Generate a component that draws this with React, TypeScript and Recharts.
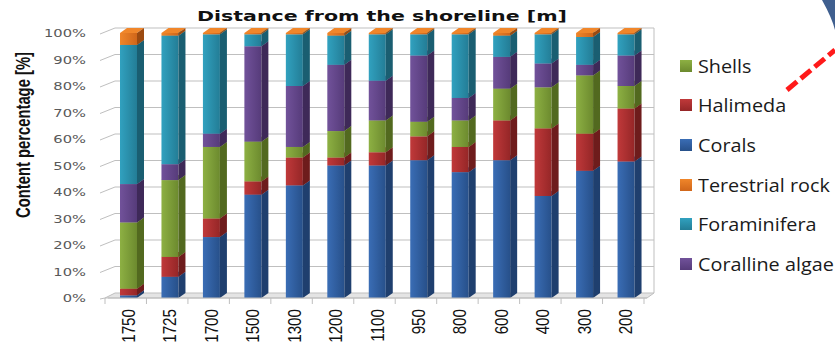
import React from "react";
import { BarChart, Bar, XAxis, YAxis, CartesianGrid } from "recharts";

// distance from the shoreline [m]
const distances = ["1750", "1725", "1700", "1500", "1300", "1200", "1100", "950", "800", "600", "400", "300", "200"];

// content percentage per component, bottom to top of each stack
const corals = [1, 8, 23, 39, 42.5, 50, 50, 52, 47.5, 52, 38.5, 48, 51.5];
const halimeda = [2.5, 7.5, 7, 5, 10.5, 3, 5, 9, 9.5, 15, 25.5, 14, 20];
const shells = [25, 29, 27, 15, 4, 10, 12, 5.5, 10, 12, 15.5, 22, 8.5];
const corallineAlgae = [14.5, 6, 5, 36, 23, 25, 15, 25, 8.5, 12, 9, 4, 11.5];
const foraminifera = [52.5, 48.5, 37.5, 4.5, 19.5, 11, 17.5, 8, 24, 8, 11, 10.5, 8];
const terrestrialRock = [4.5, 1, 0.5, 0.5, 0.5, 1, 0.5, 0.5, 0.5, 1, 0.5, 1.5, 0.5];

const yTicks = [0, 10, 20, 30, 40, 50, 60, 70, 80, 90, 100];

const series = [
  { key: "corals", name: "Corals", values: corals, color: "#3a6db5", dark: "#27508a", side: "#1f3f6e" },
  { key: "halimeda", name: "Halimeda", values: halimeda, color: "#c0393a", dark: "#952627", side: "#6e1c1c" },
  { key: "shells", name: "Shells", values: shells, color: "#8db043", dark: "#6c8a2e", side: "#52691f" },
  { key: "coralline", name: "Coralline algae", values: corallineAlgae, color: "#71529a", dark: "#563b7a", side: "#3e2958" },
  { key: "foraminifera", name: "Foraminifera", values: foraminifera, color: "#31a1bf", dark: "#237d96", side: "#1a5e71" },
  { key: "terrestrial", name: "Terestrial rock", values: terrestrialRock, color: "#f0862a", dark: "#d0661a", side: "#9c4a10" },
];

const legendOrder = ["shells", "halimeda", "corals", "terrestrial", "foraminifera", "coralline"];

const data = distances.map((d, i) => {
  const row: Record<string, string | number> = { distance: d };
  series.forEach((s) => {
    row[s.key] = s.values[i];
  });
  return row;
});

const W = 835;
const H = 346;
const TOP = 33;
const X_AXIS_H = 48;
const Y_AXIS_W = 108;
const RIGHT = 188;
const FLOOR_Y = H - X_AXIS_H;
const BAND = (W - Y_AXIS_W - RIGHT) / distances.length;
const DX = 7;
const DY = 5;

function Bar3D(props: any) {
  const { x, y, width, height, s } = props;
  if (!height || height <= 0) return null;
  const r = x + width;
  return (
    <g>
      <polygon
        points={`${x},${y} ${x + DX},${y - DY} ${r + DX},${y - DY} ${r},${y}`}
        fill={s.color}
      />
      <rect x={x} y={y} width={width} height={height} fill={`url(#g-${s.key})`} />
      <polygon
        points={`${r},${y} ${r + DX},${y - DY} ${r + DX},${y + height - DY} ${r},${y + height}`}
        fill={s.side}
      />
    </g>
  );
}

function GridLine(p: any) {
  const { x1, y1, x2 } = p;
  if (Math.abs(y1 - FLOOR_Y) < 1) {
    return (
      <g>
        <polygon
          points={`${x1 - 3},${y1} ${x1 + DX},${y1 - DY} ${x2 + DX},${y1 - DY} ${x2},${y1}`}
          fill="#e4e4e4"
          stroke="#bfbfbf"
        />
        <line x1={x1 - 8} y1={y1 + 1} x2={x1 - 3} y2={y1} stroke="#bfbfbf" />
        <line x1={x2 + DX} y1={y1 - DY} x2={x2 + DX} y2={TOP - DY} stroke="#bfbfbf" />
      </g>
    );
  }
  return (
    <polyline
      points={`${x1 - 8},${y1 + 1} ${x1 + DX},${y1 - DY} ${x2 + DX},${y1 - DY}`}
      fill="none"
      stroke="#bfbfbf"
    />
  );
}

function YTick(props: any) {
  const { y, payload } = props;
  return (
    <text
      transform={`translate(86, ${y + 4}) scale(1.4, 1)`}
      textAnchor="end"
      fontFamily="DejaVu Sans"
      fontSize={10.5}
      fill="#595959"
    >
      {payload.value}%
    </text>
  );
}

function XTick(props: any) {
  const { x, payload } = props;
  const left = x - BAND / 2;
  return (
    <g>
      <line x1={left - 3} y1={FLOOR_Y} x2={left - 3} y2={FLOOR_Y + 6} stroke="#bfbfbf" />
      {payload.index === distances.length - 1 && (
        <line x1={left + BAND - 3} y1={FLOOR_Y} x2={left + BAND - 3} y2={FLOOR_Y + 6} stroke="#bfbfbf" />
      )}
      <text
        transform={`translate(${x + 6}, ${FLOOR_Y + 11}) rotate(-90) scale(0.95, 1.15)`}
        textAnchor="end"
        fontFamily="Liberation Sans"
        fontSize={16}
        fill="#111"
      >
        {payload.value}
      </text>
    </g>
  );
}

export default function App() {
  const legendItems = legendOrder.map((k) => series.find((s) => s.key === k)!);
  return (
    <div style={{ position: "absolute", left: 0, top: 0, width: W, height: H, background: "#fff", overflow: "hidden" }}>
      <BarChart
        width={W}
        height={H}
        data={data}
        margin={{ top: TOP, right: RIGHT, left: 0, bottom: 0 }}
        barSize={17}
      >
        <defs>
          {series.map((s) => (
            <linearGradient key={s.key} id={`g-${s.key}`} x1="0" y1="0" x2="1" y2="0">
              <stop offset="0%" stopColor={s.color} />
              <stop offset="100%" stopColor={s.dark} />
            </linearGradient>
          ))}
        </defs>
        <CartesianGrid vertical={false} horizontal={(p: any) => <GridLine key={p.key} {...p} />} />
        <XAxis
          dataKey="distance"
          height={X_AXIS_H}
          axisLine={{ stroke: "#bfbfbf" }}
          tickLine={false}
          interval={0}
          tick={<XTick />}
        />
        <YAxis
          width={Y_AXIS_W}
          domain={[0, 100]}
          ticks={yTicks}
          axisLine={false}
          tickLine={false}
          tick={<YTick />}
        />
        {series.map((s) => (
          <Bar
            key={s.key}
            dataKey={s.key}
            name={s.name}
            stackId="a"
            fill={s.color}
            isAnimationActive={false}
            shape={(p: any) => <Bar3D {...p} s={s} />}
          />
        ))}
      </BarChart>

      <svg width={W} height={H} style={{ position: "absolute", left: 0, top: 0, pointerEvents: "none" }}>
        <text
          x={197}
          y={21}
          textLength={370}
          lengthAdjust="spacingAndGlyphs"
          fontFamily="DejaVu Sans"
          fontWeight="bold"
          fontSize={14}
          fill="#111"
        >
          Distance from the shoreline [m]
        </text>
        <text
          transform="translate(30, 135) rotate(-90) scale(0.74, 1)"
          textAnchor="middle"
          fontFamily="Liberation Sans"
          fontWeight="bold"
          fontSize={20}
          fill="#111"
        >
          Content percentage [%]
        </text>
        <path d="M822,0 Q832,18 835,30 L835,0 Z" fill="#3f5f8f" />
        <line x1={787} y1={90} x2={835} y2={50} stroke="#ff1a1a" strokeWidth={5} strokeDasharray="13 5" />
      </svg>

      <div style={{ position: "absolute", left: 680, top: 46 }}>
        {legendItems.map((s) => (
          <div key={s.key} style={{ display: "flex", alignItems: "center", height: 39.6 }}>
            <span
              style={{
                display: "inline-block",
                width: 12,
                height: 12,
                marginRight: 6,
                background: `linear-gradient(${s.color}, ${s.dark})`,
              }}
            />
            <span
              style={{
                fontFamily: "Open Sans",
                fontSize: 18,
                color: "#1a1a1a",
                whiteSpace: "nowrap",
                display: "inline-block",
                transform: "scaleX(1.1)",
                transformOrigin: "left center",
              }}
            >
              {s.name}
            </span>
          </div>
        ))}
      </div>
    </div>
  );
}
